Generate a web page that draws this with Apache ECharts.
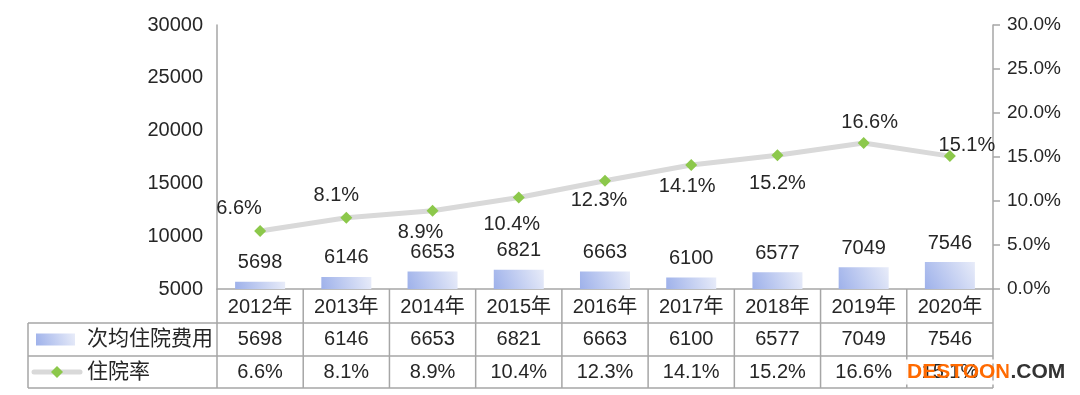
<!DOCTYPE html>
<html><head><meta charset="utf-8">
<script src="https://cdn.jsdelivr.net/npm/echarts@6/dist/echarts.min.js"></script>
<style>html,body{margin:0;padding:0;background:#fff}#c{width:1080px;height:395px}</style>
</head><body><div id="c"></div>
<script>
// ---- data ----
const years = ['2012年','2013年','2014年','2015年','2016年','2017年','2018年','2019年','2020年'];
const costs = [5698, 6146, 6653, 6821, 6663, 6100, 6577, 7049, 7546];
const rates = [6.6, 8.1, 8.9, 10.4, 12.3, 14.1, 15.2, 16.6, 15.1];
const seriesNames = ['次均住院费用', '住院率'];
const leftAxis = {min: 5000, max: 30000, interval: 5000};
const rightAxis = {min: 0, max: 30, interval: 5};
// label placement (style) for the rate labels, offsets from the marker
const rateLabelOffsets = [[-21,-22],[-10,-22],[-12,22],[-7,27],[-6,20],[-4,22],[0,28],[6,-20],[17,-11]];

const FONT = '"Liberation Sans", "Noto Sans CJK SC", sans-serif';
const TXT = '#262626';
const BORDER = '#a6a6a6';
const barGrad = new echarts.graphic.LinearGradient(0, 1, 1, 0, [
  {offset: 0, color: '#9eb1ea'}, {offset: 1, color: '#e8ecf9'}]);
const GREEN = '#8cc84b';
const LINEC = '#d9d9d9';

const chart = echarts.init(document.getElementById('c'), null, {renderer: 'canvas'});
const G = {left: 217, right: 87, top: 25, bottom: 106};
chart.setOption({
  animation: false,
  textStyle: {fontFamily: FONT},
  grid: G,
  xAxis: {
    type: 'category', data: years,
    axisLine: {show: true, lineStyle: {color: BORDER, width: 1.5}},
    axisTick: {show: false},
    axisLabel: {color: TXT, fontSize: 20, margin: 8, fontFamily: FONT, interval: 0}
  },
  yAxis: [{
    type: 'value', min: leftAxis.min, max: leftAxis.max, interval: leftAxis.interval,
    axisLine: {show: true, lineStyle: {color: BORDER, width: 1.5}},
    axisTick: {show: false}, splitLine: {show: false},
    axisLabel: {color: TXT, fontSize: 20, margin: 14, fontFamily: FONT, formatter: v => String(v)}
  }, {
    type: 'value', min: rightAxis.min, max: rightAxis.max, interval: rightAxis.interval,
    position: 'right',
    axisLine: {show: true, lineStyle: {color: BORDER, width: 1.5}},
    axisTick: {show: true, inside: false, length: 7, lineStyle: {color: BORDER, width: 1.5}},
    splitLine: {show: false},
    axisLabel: {color: TXT, fontSize: 19, margin: 14, fontFamily: FONT,
      formatter: v => v.toFixed(1) + '%'}
  }],
  series: [{
    name: seriesNames[0], type: 'bar', data: costs, yAxisIndex: 0,
    barWidth: '58%',
    itemStyle: {color: barGrad},
    label: {show: true, position: 'top', distance: 9, color: TXT, fontSize: 20, fontFamily: FONT}
  }, {
    name: seriesNames[1], type: 'line', yAxisIndex: 1,
    data: rates.map((v, i) => ({value: v, label: {offset: rateLabelOffsets[i]}})),
    lineStyle: {color: LINEC, width: 5},
    symbol: 'diamond', symbolSize: 12,
    itemStyle: {color: GREEN},
    label: {show: true, position: 'inside', color: TXT, fontSize: 20, fontFamily: FONT,
      formatter: p => p.value.toFixed(1) + '%'}
  }]
});

// ---- data table under the plot, positioned from the axis scale ----
function buildTable() {
  const W = chart.getWidth(), H = chart.getHeight();
  const x0 = G.left, x1 = W - G.right, yAx = H - G.bottom;
  const c0 = chart.convertToPixel({xAxisIndex: 0}, 0);
  const c1 = chart.convertToPixel({xAxisIndex: 0}, 1);
  const band = c1 - c0;
  const rowH = [34, 33, 32];
  const r1 = yAx + rowH[0], r2 = r1 + rowH[1], r3 = r2 + rowH[2];
  const tableLeft = 28;
  const els = [];
  const line = (xa, ya, xb, yb) => els.push({type: 'line', shape: {x1: xa, y1: ya, x2: xb, y2: yb},
    style: {stroke: BORDER, lineWidth: 1.5}, silent: true, z: 10});
  line(x0, yAx, x0, r3);
  for (let i = 0; i < years.length; i++) {
    const cx = chart.convertToPixel({xAxisIndex: 0}, i);
    line(cx + band / 2, yAx, cx + band / 2, r3);
  }
  line(tableLeft, r1, tableLeft, r3);
  line(tableLeft, r1, x1, r1);
  line(tableLeft, r2, x1, r2);
  line(tableLeft, r3, x1, r3);
  const txt = (x, y, s, align, size) => els.push({type: 'text', x: x, y: y, silent: true, z: 10,
    style: {text: s, fill: TXT, font: (size || 20) + 'px ' + FONT, align: align || 'center', verticalAlign: 'middle'}});
  for (let i = 0; i < years.length; i++) {
    const cx = chart.convertToPixel({xAxisIndex: 0}, i);
    txt(cx, (r1 + r2) / 2, String(costs[i]));
    txt(cx, (r2 + r3) / 2, rates[i].toFixed(1) + '%');
  }
  const m1 = (r1 + r2) / 2, m2 = (r2 + r3) / 2;
  els.push({type: 'rect', shape: {x: 36, y: m1 - 6, width: 39, height: 12}, style: {fill: barGrad}, z: 10});
  txt(87, m1, seriesNames[0], 'left', 21);
  els.push({type: 'line', shape: {x1: 34, y1: m2, x2: 80, y2: m2}, style: {stroke: LINEC, lineWidth: 5, lineCap: 'round'}, z: 10});
  els.push({type: 'polygon', shape: {points: [[57, m2 - 6], [63, m2], [57, m2 + 6], [51, m2]]}, style: {fill: GREEN}, z: 11});
  txt(87, m2, seriesNames[1], 'left', 21);
  // watermark
  els.push({type: 'text', x: 907, y: 372, z: 20, silent: true,
    style: {text: '{a|DESTOON}{b|.COM}', verticalAlign: 'middle', align: 'left',
      rich: {
        a: {fill: '#ff6a00', font: 'bold 21px "Liberation Sans", sans-serif', textBorderColor: 'rgba(255,255,255,0.95)', textBorderWidth: 4},
        b: {fill: '#333333', font: 'bold 21px "Liberation Sans", sans-serif', textBorderColor: 'rgba(255,255,255,0.95)', textBorderWidth: 4}
      }}});
  chart.setOption({graphic: {elements: els}});
}
buildTable();
</script>
</body></html>
